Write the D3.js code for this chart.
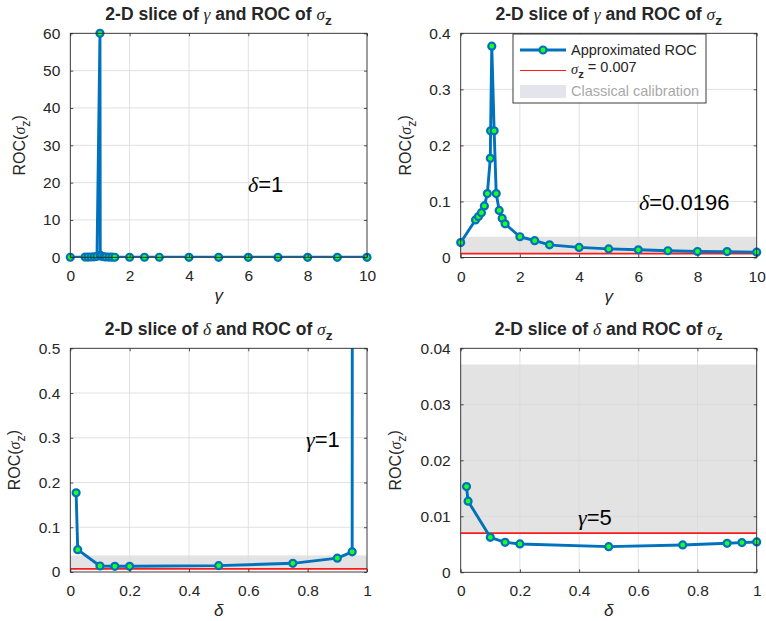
<!DOCTYPE html>
<html>
<head>
<meta charset="utf-8">
<script src="https://cdn.jsdelivr.net/npm/d3@7"></script>
<style>
  html, body { margin: 0; padding: 0; background: #ffffff; }
  svg { display: block; }
  text { font-family: "Liberation Sans", Arial, Helvetica, sans-serif; fill: #262626; }
</style>
</head>
<body>
<svg id="chart" width="766" height="621"></svg>
<script>
// ---- data -------------------------------------------------------------
// gamma grid used for the two gamma slices
const gammaValues = [0, 0.5, 0.6, 0.7, 0.8, 0.9, 1.0, 1.01, 1.05, 1.13, 1.2, 1.3, 1.4, 1.5, 2, 2.5, 3, 4, 5, 6, 7, 8, 9, 10];
// ROC(sigma_z) along gamma, delta = 1
const rocGammaDelta1 = [0.02, 0.05, 0.06, 0.08, 0.12, 0.25, 60, 0.5, 0.3, 0.15, 0.08, 0.05, 0.03, 0.02, 0.012, 0.009, 0.008, 0.0065, 0.00542, 0.005, 0.0047, 0.0045, 0.0044, 0.0043];
// ROC(sigma_z) along gamma, delta = 0.0196
const rocGammaDelta0196 = [0.0267, 0.067, 0.073, 0.080, 0.092, 0.114, 0.177, 0.226, 0.377, 0.226, 0.114, 0.084, 0.070, 0.060, 0.037, 0.030, 0.0226, 0.018, 0.0153, 0.0137, 0.012, 0.0107, 0.0105, 0.0095];

// delta grid used for the two delta slices
const deltaValues = [0.0196, 0.025, 0.1, 0.15, 0.2, 0.5, 0.75, 0.9, 0.95, 1];
// ROC(sigma_z) along delta, gamma = 1
const rocDeltaGamma1 = [0.177, 0.050, 0.0134, 0.0127, 0.0127, 0.0142, 0.0194, 0.031, 0.045, 60];
// ROC(sigma_z) along delta, gamma = 5
const rocDeltaGamma5 = [0.0153, 0.0127, 0.00625, 0.00536, 0.00506, 0.00458, 0.00488, 0.00518, 0.0053, 0.00542];

// reference level and classical calibration band
const sigmaZ = 0.007;
const classicalBand = [0.007, 0.0371];

// tick values
const gammaTicks = [0, 2, 4, 6, 8, 10];
const deltaTicks = [0, 0.2, 0.4, 0.6, 0.8, 1];
const rocTicksP1 = [0, 10, 20, 30, 40, 50, 60];
const rocTicksP2 = [0, 0.1, 0.2, 0.3, 0.4];
const rocTicksP3 = [0, 0.1, 0.2, 0.3, 0.4, 0.5];
const rocTicksP4 = [0, 0.01, 0.02, 0.03, 0.04];

// legend entries
const legendLabels = ["Approximated ROC", "= 0.007", "Classical calibration"];

// ---- drawing ----------------------------------------------------------
const svg = d3.select("#chart");
const BLUE = "#0072BD";
const GREEN = "#1cff1c";
const AXIS = "#262626";
const BAND = "#e3e3e3";

function fmtTick(v) {
  return d3.format("~g")(+v.toPrecision(6));
}

// appends "sigma_z" style mixed text to a text selection
function addSigmaZ(t, bold) {
  t.append("tspan").attr("font-family", "'Liberation Serif', 'DejaVu Serif', serif")
    .attr("font-style", "italic").attr("font-weight", "normal").text("σ");
  t.append("tspan").attr("dy", "0.38em").attr("font-size", "0.78em")
    .attr("font-weight", bold ? "bold" : "normal").text("z");
}

let clipId = 0;
function drawPanel(o) {
  const g = svg.append("g");
  const x = d3.scaleLinear().domain(o.xDomain).range([o.left, o.left + o.width]);
  const y = d3.scaleLinear().domain(o.yDomain).range([o.top + o.height, o.top]);

  // plot background
  g.append("rect").attr("x", o.left).attr("y", o.top).attr("width", o.width).attr("height", o.height)
    .attr("fill", "#ffffff");

  const id = "clip" + (clipId++);
  g.append("clipPath").attr("id", id).append("rect")
    .attr("x", o.left).attr("y", o.top).attr("width", o.width).attr("height", o.height);

  // classical calibration band
  if (o.band) {
    g.append("rect").attr("clip-path", `url(#${id})`)
      .attr("x", x(o.xDomain[0])).attr("width", x(o.xDomain[1]) - x(o.xDomain[0]))
      .attr("y", y(classicalBand[1])).attr("height", y(classicalBand[0]) - y(classicalBand[1]))
      .attr("fill", BAND);
  }

  // grid
  const grid = g.append("g").attr("stroke", "#d9d9d9").attr("stroke-width", 0.8);
  grid.selectAll("line.gx").data(o.xTicks.slice(1, -1)).join("line")
    .attr("x1", d => x(d)).attr("x2", d => x(d)).attr("y1", o.top).attr("y2", o.top + o.height);
  grid.selectAll("line.gy").data(o.yTicks.slice(1, -1)).join("line")
    .attr("y1", d => y(d)).attr("y2", d => y(d)).attr("x1", o.left).attr("x2", o.left + o.width);

  // sigma_z reference line
  if (o.band) {
    g.append("line").attr("clip-path", `url(#${id})`)
      .attr("x1", x(o.xDomain[0])).attr("x2", x(o.xDomain[1]))
      .attr("y1", y(sigmaZ)).attr("y2", y(sigmaZ))
      .attr("stroke", "#ff1a1a").attr("stroke-width", 1.8);
  }

  // series
  const pts = o.xs.map((xv, i) => [xv, o.ys[i]]);
  g.append("path").attr("clip-path", `url(#${id})`)
    .attr("d", d3.line().x(d => x(d[0])).y(d => y(d[1]))(pts))
    .attr("fill", "none").attr("stroke", BLUE).attr("stroke-width", 2.9)
    .attr("stroke-linejoin", "round");
  g.append("g").selectAll("circle")
    .data(pts.filter(d => d[1] <= o.yDomain[1] + 1e-9))
    .join("circle")
    .attr("cx", d => x(d[0])).attr("cy", d => y(d[1])).attr("r", 3.5)
    .attr("fill", GREEN).attr("stroke", BLUE).attr("stroke-width", 2.2);

  // axes
  const styleAxis = sel => {
    sel.attr("font-family", null).attr("font-size", null);
    sel.select(".domain").remove();
    sel.selectAll(".tick line").attr("stroke", AXIS).attr("stroke-width", 0.8);
    sel.selectAll(".tick text").attr("fill", AXIS).style("font-size", "15.5px");
  };
  g.append("g").attr("transform", `translate(0,${o.top + o.height})`)
    .call(d3.axisBottom(x).tickValues(o.xTicks).tickFormat(fmtTick).tickSize(-3).tickPadding(13))
    .call(styleAxis);
  g.append("g").attr("transform", `translate(${o.left},0)`)
    .call(d3.axisLeft(y).tickValues(o.yTicks).tickFormat(fmtTick).tickSize(-3).tickPadding(10))
    .call(styleAxis);
  g.append("g").attr("transform", `translate(0,${o.top})`)
    .call(d3.axisTop(x).tickValues(o.xTicks).tickFormat("").tickSize(-3))
    .call(styleAxis);
  g.append("g").attr("transform", `translate(${o.left + o.width},0)`)
    .call(d3.axisRight(y).tickValues(o.yTicks).tickFormat("").tickSize(-3))
    .call(styleAxis);

  // box
  g.append("rect").attr("x", o.left).attr("y", o.top).attr("width", o.width).attr("height", o.height)
    .attr("fill", "none").attr("stroke", AXIS).attr("stroke-width", 0.9);

  // title
  const cx = o.left + o.width / 2;
  const title = g.append("text").attr("x", cx).attr("y", o.top - 13)
    .attr("text-anchor", "middle").attr("font-weight", "bold").style("font-size", "17.5px");
  title.append("tspan").text("2-D slice of ");
  title.append("tspan").attr("font-family", "'Liberation Serif', 'DejaVu Serif', serif")
    .attr("font-style", "italic").attr("font-weight", "normal").text(o.varSymbol);
  title.append("tspan").text(" and ROC of ");
  addSigmaZ(title, true);

  // x label
  g.append("text").attr("x", cx).attr("y", o.top + o.height + 44)
    .attr("text-anchor", "middle")
    .attr("font-family", "'Liberation Serif', 'DejaVu Serif', serif").attr("font-style", "italic")
    .style("font-size", "17px").text(o.varSymbol);

  // y label
  const yl = g.append("text")
    .attr("transform", `translate(${o.yLabelX},${o.top + o.height / 2}) rotate(-90)`)
    .attr("text-anchor", "middle").style("font-size", "16px");
  yl.append("tspan").text("ROC(");
  addSigmaZ(yl, false);
  yl.append("tspan").attr("dy", "-0.38em").text(")");

  // annotation
  const an = g.append("text").attr("x", o.note.x).attr("y", o.note.y).style("font-size", "22px")
    .attr("fill", "#000");
  an.append("tspan").attr("font-family", "'Liberation Serif', 'DejaVu Serif', serif")
    .attr("font-style", "italic").attr("fill", "#000").text(o.note.sym);
  an.append("tspan").attr("fill", "#000").text(o.note.text);

  return { x, y };
}

drawPanel({
  left: 70.3, top: 33.3, width: 296.7, height: 224,
  xDomain: [0, 10], yDomain: [0, 60], xTicks: gammaTicks, yTicks: rocTicksP1,
  xs: gammaValues, ys: rocGammaDelta1, band: false, varSymbol: "γ", yLabelX: 25,
  note: { x: 248, y: 192, sym: "δ", text: "=1" }
});

drawPanel({
  left: 460.7, top: 33.3, width: 296, height: 224.2,
  xDomain: [0, 10], yDomain: [0, 0.4], xTicks: gammaTicks, yTicks: rocTicksP2,
  xs: gammaValues, ys: rocGammaDelta0196, band: true, varSymbol: "γ", yLabelX: 411,
  note: { x: 639, y: 210, sym: "δ", text: "=0.0196" }
});

drawPanel({
  left: 70.3, top: 348.3, width: 296.7, height: 223.7,
  xDomain: [0, 1], yDomain: [0, 0.5], xTicks: deltaTicks, yTicks: rocTicksP3,
  xs: deltaValues, ys: rocDeltaGamma1, band: true, varSymbol: "δ", yLabelX: 20,
  note: { x: 306, y: 447, sym: "γ", text: "=1" }
});

drawPanel({
  left: 460.7, top: 348.3, width: 296, height: 224,
  xDomain: [0, 1], yDomain: [0, 0.04], xTicks: deltaTicks, yTicks: rocTicksP4,
  xs: deltaValues, ys: rocDeltaGamma5, band: true, varSymbol: "δ", yLabelX: 401,
  note: { x: 578, y: 525, sym: "γ", text: "=5" }
});

// ---- legend (upper-right panel) -----------------------------------------
const lg = svg.append("g");
lg.append("rect").attr("x", 513).attr("y", 34).attr("width", 193).attr("height", 69)
  .attr("fill", "#ffffff").attr("stroke", AXIS).attr("stroke-width", 0.9);
const rowY = [50, 70.5, 91];
// entry 1: line with marker
lg.append("line").attr("x1", 520).attr("x2", 566).attr("y1", rowY[0]).attr("y2", rowY[0])
  .attr("stroke", BLUE).attr("stroke-width", 2.9);
lg.append("circle").attr("cx", 543).attr("cy", rowY[0]).attr("r", 3.5)
  .attr("fill", GREEN).attr("stroke", BLUE).attr("stroke-width", 2.2);
lg.append("text").attr("x", 571).attr("y", rowY[0] + 5).style("font-size", "14.5px").text(legendLabels[0]);
// entry 2: red line
lg.append("line").attr("x1", 520).attr("x2", 566).attr("y1", rowY[1]).attr("y2", rowY[1])
  .attr("stroke", "#ff1a1a").attr("stroke-width", 1.2);
const t2 = lg.append("text").attr("x", 571).attr("y", rowY[1] + 3).style("font-size", "14.5px");
addSigmaZ(t2, true);
t2.append("tspan").attr("dy", "-0.38em").text(" " + legendLabels[1]);
// entry 3: band patch
lg.append("rect").attr("x", 520).attr("y", rowY[2] - 6).attr("width", 46).attr("height", 13)
  .attr("fill", "#e4e4ec");
lg.append("text").attr("x", 571).attr("y", rowY[2] + 5).style("font-size", "14.5px")
  .style("fill", "#a9a9a9").text(legendLabels[2]);
</script>
</body>
</html>
